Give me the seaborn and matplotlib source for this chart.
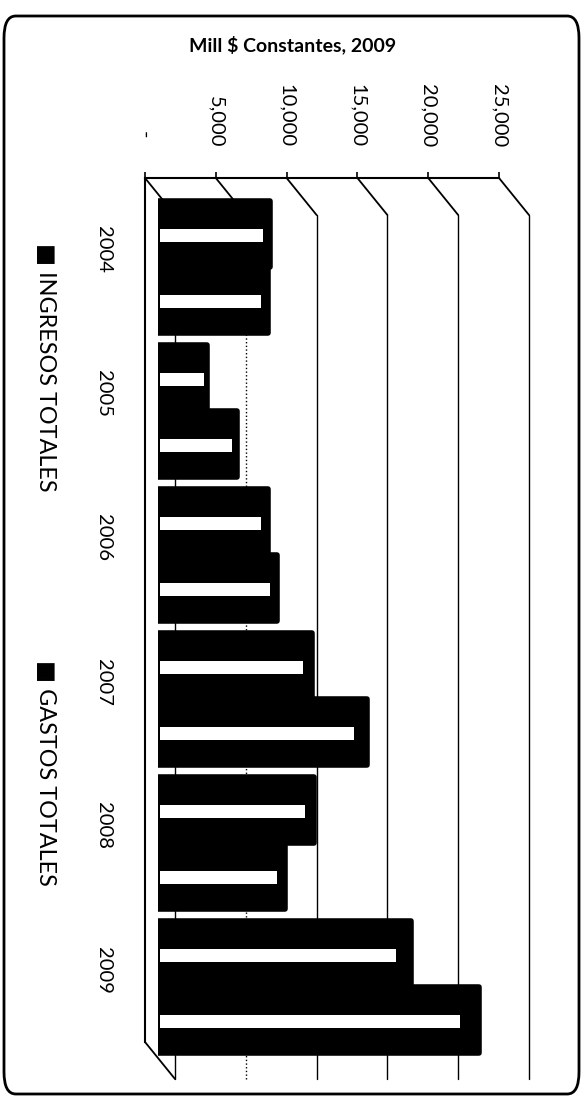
import seaborn as sns
import pandas as pd
import numpy as np
import matplotlib.pyplot as plt
from matplotlib.patches import FancyBboxPatch, ConnectionPatch, Rectangle

years = ["2004", "2005", "2006", "2007", "2008", "2009"]
ingresos = [7900, 3450, 7750, 10900, 11050, 17900]
gastos = [7750, 5550, 8400, 14750, 8950, 22700]
series = ["INGRESOS TOTALES", "GASTOS TOTALES"]
value_ticks = [0, 5000, 10000, 15000, 20000, 25000]
value_labels = ["-  ", "5,000", "10,000", "15,000", "20,000", "25,000"]
title = "Mill $ Constantes, 2009"

df = pd.DataFrame({
    "year": years * 2,
    "valor": ingresos + gastos,
    "serie": [series[0]] * len(years) + [series[1]] * len(years),
})

sns.set_style("white")
plt.rcParams["font.family"] = ["Lato", "DejaVu Sans"]
plt.rcParams["text.color"] = "black"
plt.rcParams["xtick.color"] = "black"
plt.rcParams["ytick.color"] = "black"
plt.rcParams["axes.labelcolor"] = "black"

W, H = 587, 1102
fig = plt.figure(figsize=(W / 100, H / 100), dpi=100)


def px_axes(x0, y0, x1, y1):
    return fig.add_axes([x0 / W, 1 - y1 / H, (x1 - x0) / W, (y1 - y0) / H])


# back wall with gridlines (3D look)
axk = px_axes(175, 215, 529, 1079)
axk.set_xlim(0, 25000)
axk.set_ylim(5.5, -0.5)
axk.set_xticks(value_ticks)
axk.set_yticks([])
axk.tick_params(length=0, labelbottom=False)
axk.grid(axis="x", color="black", lw=1)
axk.grid(axis="y", visible=False)
for s in axk.spines.values():
    s.set_visible(False)
axk.patch.set_alpha(0)
for gl in axk.get_xgridlines():
    gl.set_clip_on(False)
axk.get_xgridlines()[1].set_linestyle(":")

# bars at mid depth
axb = px_axes(158, 195, 512, 1059)
sns.barplot(data=df, y="year", x="valor", hue="serie", palette=["black", "black"],
            width=0.92, orient="h", legend=False, saturation=1, ax=axb)
axb.set_xlim(0, 25000)
axb.set_ylim(5.5, -0.5)
axb.axis("off")
for p in list(axb.patches):
    p.set_edgecolor("black")
    p.set_linewidth(4)
    p.set_joinstyle("round")
    h = p.get_height()
    axb.add_patch(Rectangle((p.get_x() + 150, p.get_y() + 0.42 * h),
                            p.get_width() * 0.94 - 150, 0.2 * h,
                            facecolor="white", edgecolor="none", zorder=5))

# front axes: value axis on top, categories on the left
axf = px_axes(145, 178, 499, 1042)
axf.set_xlim(0, 25000)
axf.set_ylim(5.5, -0.5)
axf.patch.set_alpha(0)
for k in ["right", "bottom"]:
    axf.spines[k].set_visible(False)
for k in ["left", "top"]:
    axf.spines[k].set_color("black")
    axf.spines[k].set_linewidth(1.5)
axf.xaxis.tick_top()
axf.set_xticks(value_ticks)
axf.set_xticklabels(value_labels, rotation=-90, fontsize=14.5)
axf.tick_params(axis="x", direction="out", length=4, width=1.2, color="black", pad=18)
axf.set_yticks(range(len(years)))
axf.set_yticklabels(years, rotation=-90, fontsize=14.5, va="center")
axf.tick_params(axis="y", length=0, pad=24)
axf.set_yticks(np.arange(-0.5, len(years)), minor=True)
axf.tick_params(axis="y", which="minor", direction="out", length=5, width=1.2, color="black")
axf.set_xlabel("")
axf.set_ylabel("")

# diagonal connectors between front axis and back wall
for v in value_ticks:
    fig.add_artist(ConnectionPatch(xyA=(v, -0.5), coordsA=axf.transData,
                                   xyB=(v, -0.5), coordsB=axk.transData,
                                   color="black", lw=1.3))
fig.add_artist(ConnectionPatch(xyA=(0, 5.5), coordsA=axf.transData,
                               xyB=(0, 5.5), coordsB=axk.transData,
                               color="black", lw=1.3))

# title and rotated legend
fig.text(293 / W, 1 - 45 / H, title, ha="center", va="center",
         fontsize=14, fontweight="bold")
fig.text(45 / W, 1 - 243 / H, "\u25a0 " + series[0], rotation=-90,
         ha="center", va="top", fontsize=16.8, family=["Lato", "DejaVu Sans"])
fig.text(45 / W, 1 - 660 / H, "\u25a0 " + series[1], rotation=-90,
         ha="center", va="top", fontsize=16.8, family=["Lato", "DejaVu Sans"])

# rounded outer frame
fig.add_artist(FancyBboxPatch((4 / W, 1 - 1094 / H), 575 / W, 1078 / H,
                              boxstyle="round,pad=0,rounding_size=0.02",
                              transform=fig.transFigure, facecolor="none",
                              edgecolor="black", lw=2))

fig.savefig("out.png", dpi=100)
